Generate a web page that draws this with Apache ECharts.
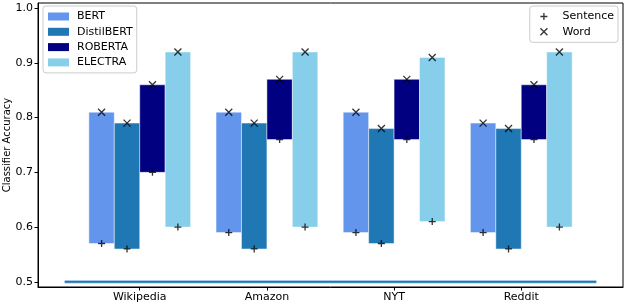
<!DOCTYPE html>
<html>
<head>
<meta charset="utf-8">
<script src="https://cdn.jsdelivr.net/npm/echarts@6/dist/echarts.min.js"></script>
<style>html,body{margin:0;padding:0;background:#fff}#c{width:626px;height:306px}</style>
</head>
<body>
<div id="c"></div>
<script>
const categories = ['Wikipedia', 'Amazon', 'NYT', 'Reddit'];
const models = ['BERT', 'DistilBERT', 'ROBERTA', 'ELECTRA'];
const yTicks = [0.5, 0.6, 0.7, 0.8, 0.9, 1.0];
// sentence-level (bottom, "+") and word-level (top, "x") accuracy per model, per dataset
const bertSentence = [0.57, 0.59, 0.59, 0.59];
const bertWord = [0.81, 0.81, 0.81, 0.79];
const distilSentence = [0.56, 0.56, 0.57, 0.56];
const distilWord = [0.79, 0.79, 0.78, 0.78];
const robertaSentence = [0.70, 0.76, 0.76, 0.76];
const robertaWord = [0.86, 0.87, 0.87, 0.86];
const electraSentence = [0.60, 0.60, 0.61, 0.60];
const electraWord = [0.92, 0.92, 0.91, 0.92];
const baseline = 0.5;

const sentences = [bertSentence, distilSentence, robertaSentence, electraSentence];
const words = [bertWord, distilWord, robertaWord, electraWord];
const colors = ['#6495ED', '#1f77b4', '#000080', '#87CEEB'];
const barW = 0.2;
const offsets = [-0.3, -0.1, 0.1, 0.3];
const font = 'DejaVu Sans';

const plusPath = 'path://M5,0L5,10M0,5L10,5';
const crossPath = 'path://M0,0L10,10M10,0L0,10';

const series = [];
models.forEach((m, j) => {
  series.push({
    name: m,
    type: 'custom',
    itemStyle: { color: colors[j] },
    data: categories.map((c, i) => [i + offsets[j], sentences[j][i], words[j][i]]),
    encode: { x: 0, y: [1, 2] },
    renderItem: (params, api) => {
      const x = api.value(0), s = api.value(1), w = api.value(2);
      const p1 = api.coord([x - barW / 2, w]);
      const p2 = api.coord([x + barW / 2, s]);
      return {
        type: 'rect',
        shape: { x: p1[0], y: p1[1], width: p2[0] - p1[0], height: p2[1] - p1[1] },
        style: { fill: colors[j], stroke: 'rgba(255,255,255,0.45)', lineWidth: 1 }
      };
    },
    z: 2
  });
});

const sentData = [], wordData = [];
models.forEach((m, j) => categories.forEach((c, i) => {
  sentData.push([i + offsets[j], sentences[j][i]]);
  wordData.push([i + offsets[j], words[j][i]]);
}));

series.push({
  name: 'Sentence', type: 'scatter', data: sentData, symbol: plusPath, symbolSize: 7,
  itemStyle: { color: 'transparent', borderColor: '#000', borderWidth: 1.3 }, z: 5
});
series.push({
  name: 'Word', type: 'scatter', data: wordData, symbol: crossPath, symbolSize: 7,
  itemStyle: { color: 'transparent', borderColor: '#000', borderWidth: 1.3 }, z: 5
});
series.push({
  name: 'baselineGlow', type: 'line', data: [[-0.59, baseline], [3.59, baseline]],
  symbol: 'none', lineStyle: { color: '#a8cbe6', width: 3.5 }, silent: true, z: 1
});
series.push({
  name: 'baseline', type: 'line', data: [[-0.59, baseline], [3.59, baseline]],
  symbol: 'none', lineStyle: { color: '#1f77b4', width: 1.8 }, silent: true, z: 1
});

const chart = echarts.init(document.getElementById('c'), null, { renderer: 'canvas' });
chart.setOption({
  animation: false,
  backgroundColor: '#fff',
  textStyle: { fontFamily: font },
  grid: { left: 38, right: 3, top: 3, bottom: 19, show: true, borderColor: '#000', borderWidth: 1, containLabel: false, outerBoundsMode: 'none' },
  xAxis: {
    type: 'value', min: -0.8, max: 3.8,
    splitLine: { show: false },
    axisLine: { show: true, onZero: false, lineStyle: { color: '#000', width: 1 } },
    axisTick: { show: true, customValues: [0, 1, 2, 3], length: 3.5, lineStyle: { color: '#000' } },
    axisLabel: { customValues: [0, 1, 2, 3], formatter: v => categories[Math.round(v)], color: '#000', fontSize: 11, fontFamily: font, margin: 5 }
  },
  yAxis: {
    type: 'value', min: 0.4905, max: 1.0095,
    name: 'Classifier Accuracy', nameLocation: 'middle', nameGap: 31, nameRotate: 90, nameMoveOverlap: false,
    nameTextStyle: { color: '#000', fontSize: 10, fontFamily: font, verticalAlign: 'middle', align: 'center' },
    splitLine: { show: false },
    axisLine: { show: true, onZero: false, lineStyle: { color: '#000', width: 1 } },
    axisTick: { show: true, customValues: yTicks, length: 3.5, lineStyle: { color: '#000' } },
    axisLabel: { customValues: yTicks, formatter: v => v.toFixed(1), color: '#000', fontSize: 11, fontFamily: font, margin: 5 }
  },
  legend: [
    {
      data: models.map(m => ({ name: m, icon: 'rect' })),
      orient: 'vertical', left: 43, top: 6,
      itemWidth: 21, itemHeight: 8, itemGap: 2.3,
      padding: [4, 4, 4, 5],
      borderColor: '#ccc', borderWidth: 1, borderRadius: 3,
      backgroundColor: 'rgba(255,255,255,0.8)',
      textStyle: { color: '#000', fontSize: 11, fontFamily: font, lineHeight: 13, padding: [0, 0, 0, 3] }
    },
    {
      data: [
        { name: 'Sentence', icon: plusPath, itemStyle: { color: 'transparent', borderColor: '#000', borderWidth: 1.3 } },
        { name: 'Word', icon: crossPath, itemStyle: { color: 'transparent', borderColor: '#000', borderWidth: 1.3 } }
      ],
      orient: 'vertical', right: 8, top: 6,
      itemWidth: 7, itemHeight: 7, itemGap: 2.3,
      padding: [4, 4, 4, 10],
      borderColor: '#ccc', borderWidth: 1, borderRadius: 3,
      backgroundColor: 'rgba(255,255,255,0.8)',
      textStyle: { color: '#000', fontSize: 11, fontFamily: font, lineHeight: 13, padding: [0, 0, 0, 10] }
    }
  ],
  series: series
});
</script>
</body>
</html>
